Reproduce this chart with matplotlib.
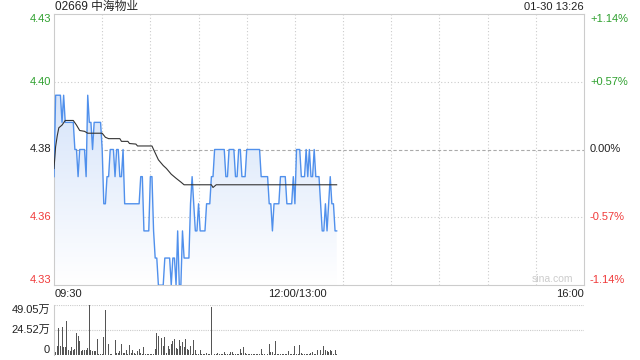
import numpy as np
import matplotlib
matplotlib.use("Agg")
import matplotlib.pyplot as plt
from matplotlib.patches import Polygon
from matplotlib.colors import LinearSegmentedColormap
import matplotlib.transforms as mtrans

plt.rcParams['font.family'] = ['Liberation Sans', 'Noto Sans CJK SC', 'DejaVu Sans']

# ---------------- data ----------------
title = "02669 中海物业"
timestamp = "01-30 13:26"
prev_close = 4.38
price_ticks = ["4.43", "4.40", "4.38", "4.36", "4.33"]
pct_ticks = ["+1.14%", "+0.57%", "0.00%", "-0.57%", "-1.14%"]
time_ticks = ["09:30", "12:00/13:00", "16:00"]
vol_ticks = ["49.05万", "24.52万", "0"]
vol_max = 49.05  # 万

prices = ([4.37] + [4.40] * 4 + [4.39] + [4.40] + [4.39] * 6 + [4.38] * 2 + [4.37] +
          [4.38] * 4 + [4.37] + [4.40] + [4.39] * 2 + [4.38] + [4.39] * 5 + [4.38] +
          [4.36] * 2 + [4.37] * 2 + [4.38] * 3 + [4.37] + [4.38] * 2 + [4.37] * 2 + [4.38] +
          [4.36] * 10 + [4.37] * 2 + [4.35] * 4 + [4.37] * 2 + [4.35] + [4.34] * 2 +
          [4.33] * 4 + [4.34] * 4 + [4.33] + [4.34] * 2 + [4.33] + [4.35] + [4.33] * 2 +
          [4.35] + [4.34] * 4 + [4.36] + [4.37] + [4.36] + [4.35] * 2 + [4.36] +
          [4.35] * 4 + [4.36] * 3 + [4.37] * 2 + [4.38] * 7 + [4.37] * 2 + [4.38] * 4 +
          [4.37] * 2 + [4.38] * 2 + [4.37] * 3 + [4.38] * 9 + [4.37] * 5 + [4.36] * 2 +
          [4.35] + [4.36] * 4 + [4.37] * 4 + [4.36] * 4 + [4.37] + [4.36] + [4.38] * 3 +
          [4.37] * 3 + [4.38] + [4.37] + [4.38] + [4.37] * 2 + [4.38] + [4.37] * 3 +
          [4.36] + [4.35] * 2 + [4.36] + [4.35] + [4.36] + [4.37] + [4.36] * 2 + [4.35] * 2)

avg_minutes = [0, 1, 2, 3, 5, 7, 12, 14, 16, 19, 21, 30, 32, 34, 41, 42, 46, 47, 51, 52,
               61, 62, 65, 68, 70, 73, 76, 79, 81, 98, 99, 100, 101, 176]
avg_values = [4.373, 4.381, 4.385, 4.388, 4.389, 4.3907, 4.3907, 4.389, 4.387, 4.3867,
              4.386, 4.386, 4.3845, 4.384, 4.384, 4.383, 4.383, 4.3822, 4.382, 4.3813,
              4.3813, 4.380, 4.3762, 4.3741, 4.373, 4.3709, 4.3694, 4.368, 4.367, 4.367,
              4.366, 4.3665, 4.367, 4.367]

volumes = [17.4, 3.0, 9.2, 26, 9, 27, 8, 8, 33, 5, 4, 7.5, 4.6, 6, 22, 19, 13.5, 3.6, 5, 5,
           4.6, 7, 49.05, 5, 3.6, 3.6, 3.6, 16, 1.3, 1.3, 1.3, 18, 44, 2, 11, 1.3, 1.3, 0.3,
           14.5, 2, 2, 4.3, 11, 2, 2, 4.6, 1.3, 10, 2, 5, 2, 1.3, 3.6, 6, 2, 1.3, 7.6, 0.7,
           1, 0.7, 1.3, 1.3, 1.3, 6, 22, 19, 9.5, 16.8, 8.5, 17.4, 2, 8.5, 6, 11, 13.5, 16,
           7, 6, 15, 8.5, 13, 7.5, 16, 6, 4.6, 8.5, 1.3, 14.5, 4.6,
           1.3, 1.3, 4.6, 1.3, 0.7, 1.3, 2, 1.3, 1.3, 47, 0.7, 0.7, 0.7, 2, 0.7, 1.3, 1.3,
           2.6, 1.3, 1.3, 1.3, 2.6, 3.3, 1.3, 1.3, 1.3, 0.7, 6.3, 2, 7.6, 2, 0.7, 1.3, 0.7,
           1.3, 0.7, 0.7, 0.7, 0.7, 1.3, 5.6, 0.7, 0.7, 1.3, 1.3, 11, 3.3, 2.6, 1.3, 13.5,
           1.3, 0.7, 0.7, 0.7, 1.3, 1.3, 0.7, 3.6, 0.7, 0.7, 0.7, 9, 1.3, 0.7, 10, 2, 1.3,
           0.7, 0.7, 1.3, 1.3, 2, 2.6, 1.3, 1.3, 4.6, 1.3, 5, 1.3, 9, 4.6, 3.6, 2.6, 4.6,
           3.6, 1.3, 5, 0.7]

total_minutes = 330
grid_step = 30

# ---------------- figure ----------------
W, H = 640, 360
fig = plt.figure(figsize=(W / 100, H / 100), dpi=100)

def fx(px):
    return px / W

def fy(py):
    return 1 - py / H

L, R = 54, 584
ax = fig.add_axes([fx(L), fy(285), fx(R) - fx(L), fy(14) - fy(285)])
axv = fig.add_axes([fx(L), fy(355), fx(R) - fx(L), fy(305) - fy(355)])

ymin = prev_close * (1 - 0.0114)
ymax = prev_close * (1 + 0.0114)
levels = [ymax, prev_close * (1 + 0.0057), prev_close, prev_close * (1 - 0.0057), ymin]

GREEN = '#2ea02e'
RED = '#f03a3a'
DARK = '#222222'
label_colors = [GREEN, GREEN, DARK, RED, RED]
grid_c = '#cccccc'

xs = np.arange(len(prices))
pr = np.array(prices)

# gradient fill
verts = [(xs[0], ymin)] + list(zip(xs, pr)) + [(xs[-1], ymin)]
poly = Polygon(verts, closed=True, facecolor='none', edgecolor='none')
ax.add_patch(poly)
grad = np.linspace(1, 0, 256).reshape(-1, 1)
cmap = LinearSegmentedColormap.from_list('g', ['#ffffff', '#d6e4fa'])
im = ax.imshow(grad, extent=[xs[0], xs[-1], ymin, pr.max()], aspect='auto',
               cmap=cmap, origin='upper', zorder=1, interpolation='bilinear')
im.set_clip_path(poly)

# grids
for m in range(grid_step, total_minutes, grid_step):
    ax.axvline(m, color=grid_c, lw=0.8, ls=(0, (1, 2)), zorder=0.5)
for lv in [levels[1], levels[3]]:
    ax.axhline(lv, color=grid_c, lw=0.8, ls=(0, (1, 2)), zorder=0.5)
ax.axhline(prev_close, color='#aaaaaa', lw=0.8, ls=(0, (3, 2)), zorder=0.5)

ax.plot(xs, pr, color='#5090ec', lw=1.0, zorder=3)
ax.plot(avg_minutes, avg_values, color='#333333', lw=0.8, zorder=4)

ax.set_xlim(0, total_minutes)
ax.set_ylim(ymin, ymax)
ax.set_xticks([])
ax.set_yticks([])
for s in ax.spines.values():
    s.set_color(grid_c)
    s.set_linewidth(0.8)

# price / pct labels
trans_l = mtrans.blended_transform_factory(fig.transFigure, ax.transData)
vas = ['top', 'center', 'center', 'center', 'bottom']
for lv, t, p, c, va in zip(levels, price_ticks, pct_ticks, label_colors, vas):
    ax.text(fx(51), lv, t, transform=trans_l, ha='right', va=va, fontsize=8, color=c)
    ax.text(fx(590), lv, p, transform=trans_l, ha='left', va=va, fontsize=8, color=c)

fig.text(fx(55), fy(7), title, ha='left', va='center', fontsize=8.5, color='#222222')
fig.text(fx(584), fy(7), timestamp, ha='right', va='center', fontsize=8, color='#222222')
fig.text(fx(552), fy(279), "sina.com", ha='center', va='center', fontsize=7.5, color='#cccccc')

# time labels
fig.text(fx(55), fy(294), time_ticks[0], ha='left', va='center', fontsize=8, color=DARK)
fig.text(fx(L + (R - L) * 150 / total_minutes + 2), fy(294), time_ticks[1], ha='center',
         va='center', fontsize=8, color=DARK)
fig.text(fx(584), fy(294), time_ticks[2], ha='right', va='center', fontsize=8, color=DARK)

# volume
vx = np.arange(len(volumes))
axv.bar(vx, volumes, width=0.6, color='#555555', zorder=3)
axv.set_xlim(0, total_minutes)
axv.set_ylim(0, vol_max)
axv.set_xticks([])
axv.set_yticks([])
for k, s in axv.spines.items():
    s.set_visible(False)
axv.spines['left'].set_visible(True)
axv.spines['left'].set_color(grid_c)
axv.axhline(vol_max, color=grid_c, lw=0.8, ls=(0, (1, 1)), zorder=1)
axv.axhline(vol_max / 2, color=grid_c, lw=0.8, ls=(0, (1, 1)), zorder=1)
axv.axhline(0, color='#dddddd', lw=0.6, zorder=1)
trans_v = mtrans.blended_transform_factory(fig.transFigure, axv.transData)
axv.text(fx(50), vol_max, vol_ticks[0], transform=trans_v, ha='right', va='top',
         fontsize=8, color=DARK)
axv.text(fx(50), vol_max / 2, vol_ticks[1], transform=trans_v, ha='right', va='center',
         fontsize=8, color=DARK)
axv.text(fx(50), 0, vol_ticks[2], transform=trans_v, ha='right', va='bottom',
         fontsize=8, color=DARK)

fig.savefig("out.png", dpi=100)
